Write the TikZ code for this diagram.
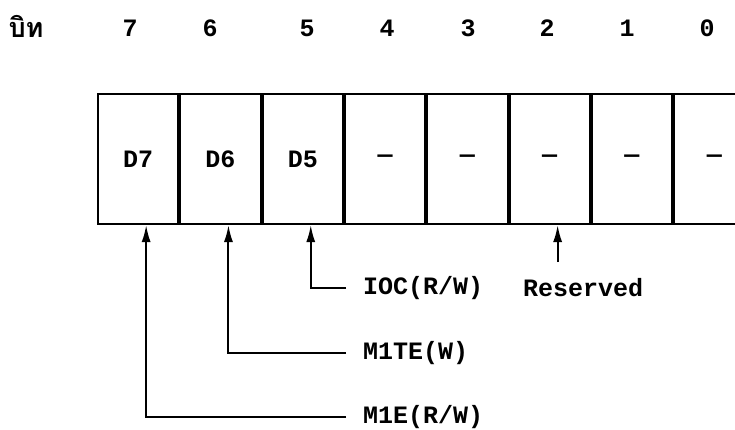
\documentclass[tikz,border=0pt]{standalone}
\usepackage{fontspec}
\setmonofont{Liberation Mono}
\newfontfamily\thaifont[Script=Thai]{Loma}
\usetikzlibrary{arrows.meta}
\begin{document}
\begin{tikzpicture}[x=1pt,y=-1pt,
  every node/.style={font=\ttfamily\bfseries\fontsize{25}{30}\selectfont},
  cell/.style={draw,line width=2pt,minimum width=80.3pt,minimum height=130pt,inner sep=0pt,anchor=north west},
  lbl/.style={inner sep=0pt,anchor=west},
  bitnum/.style={inner sep=0pt},
  arr/.style={line width=2pt,-{Latex[length=17pt,width=9pt]}}]
\useasboundingbox (0,0) rectangle (735,430);
\clip (0,0) rectangle (735,430);
\node[inner sep=0pt,font=\thaifont\bfseries\fontsize{27}{32}\selectfont] (bit) at (26,26) {บิท};
\foreach \i/\x in {7/130,6/210,5/307,4/387,3/468,2/547,1/627,0/707}{
  \node[bitnum] (b\i) at (\x,28) {\i};
}
\node[cell] (c7) at (97,93) {D7};
\node[cell] (c6) at (c7.north east) {D6};
\node[cell] (c5) at (c6.north east) {D5};
\node[cell] (c4) at (c5.north east) {\textemdash};
\node[cell] (c3) at (c4.north east) {\textemdash};
\node[cell] (c2) at (c3.north east) {\textemdash};
\node[cell] (c1) at (c2.north east) {\textemdash};
\node[cell] (c0) at (c1.north east) {\textemdash};
\node[lbl] (ioc) at (363,288) {IOC(R/W)};
\node[lbl] (res) at (523,288) {Reserved};
\node[lbl] (m1te) at (363,353) {M1TE(W)};
\node[lbl] (m1e) at (363,417) {M1E(R/W)};
\coordinate (rb) at ([xshift=8pt]c2.south |- 0,262);
\draw[arr] ([xshift=-17pt]ioc.west) -| ([xshift=8pt]c5.south);
\draw[arr] ([xshift=-17pt]m1te.west) -| ([xshift=8pt]c6.south);
\draw[arr] ([xshift=-17pt]m1e.west) -| ([xshift=8pt]c7.south);
\draw[arr] (rb) -- ([xshift=8pt]c2.south);
\end{tikzpicture}
\end{document}
